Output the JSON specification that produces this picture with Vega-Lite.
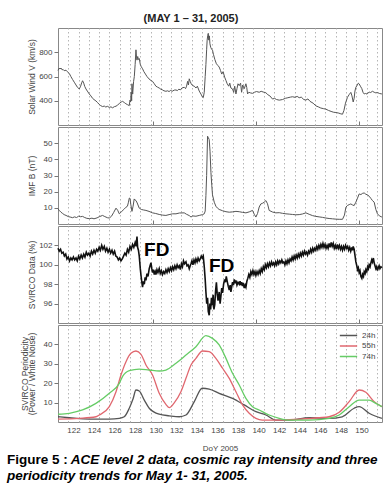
{
  "$schema": "https://vega.github.io/schema/vega-lite/v6.json",
  "background": "white",
  "padding": {"left": 6, "top": 12, "right": 4, "bottom": 2},
  "config": {
    "font": "Liberation Sans",
    "view": {"stroke": "#888888", "strokeWidth": 1},
    "axis": {
      "labelFontSize": 8, "labelColor": "#444444", "titleFontSize": 8.5, "titleFontWeight": "normal",
      "titleColor": "#444444", "tickColor": "#777777", "domain": false, "grid": false
    },
    "concat": {"spacing": 0}
  },
  "resolve": {"scale": {"color": "independent"}, "legend": {"color": "independent"}},
  "title": {
    "text": "Figure 5 :",
    "subtitle": ["\u200b\u00a0\u00a0\u00a0\u00a0\u00a0\u00a0\u00a0\u00a0\u00a0\u00a0\u00a0\u00a0\u00a0\u00a0\u00a0\u00a0\u00a0ACE level 2 data, cosmic ray intensity and three", "periodicity trends for May 1- 31, 2005."],
    "orient": "bottom", "anchor": "start", "frame": "bounds",
    "fontSize": 13.5, "fontWeight": "bold", "color": "#000000",
    "subtitleFontSize": 13.5, "subtitleFontWeight": "bold", "subtitleFontStyle": "italic", "subtitleColor": "#000000",
    "subtitlePadding": -13.5, "subtitleLineHeight": 16, "offset": 0, "dx": -13
  },
  "datasets": {
    "sw": [
      {"day":120.50,"v":650},{"day":120.60,"v":668},{"day":120.70,"v":662},{"day":120.79,"v":670},{"day":120.90,"v":655},{"day":121.00,"v":658},{"day":121.10,"v":648},{"day":121.28,"v":652},{"day":121.40,"v":640},{"day":121.50,"v":632},{"day":121.60,"v":625},{"day":121.75,"v":600},{"day":121.92,"v":575},{"day":122.08,"v":553},{"day":122.25,"v":530},{"day":122.40,"v":510},{"day":122.57,"v":497},{"day":122.70,"v":520},{"day":122.80,"v":548},{"day":122.89,"v":565},{"day":123.00,"v":545},{"day":123.10,"v":518},{"day":123.22,"v":497},{"day":123.35,"v":480},{"day":123.54,"v":456},{"day":123.70,"v":440},{"day":123.86,"v":420},{"day":124.00,"v":410},{"day":124.19,"v":398},{"day":124.35,"v":385},{"day":124.50,"v":370},{"day":124.65,"v":360},{"day":124.83,"v":352},{"day":125.00,"v":356},{"day":125.15,"v":348},{"day":125.30,"v":354},{"day":125.49,"v":345},{"day":125.65,"v":350},{"day":125.80,"v":342},{"day":126.00,"v":352},{"day":126.14,"v":355},{"day":126.30,"v":365},{"day":126.50,"v":380},{"day":126.65,"v":390},{"day":126.78,"v":395},{"day":126.95,"v":385},{"day":127.10,"v":375},{"day":127.25,"v":368},{"day":127.43,"v":360},{"day":127.50,"v":405},{"day":127.56,"v":390},{"day":127.62,"v":470},{"day":127.66,"v":400},{"day":127.69,"v":540},{"day":127.76,"v":455},{"day":127.85,"v":560},{"day":127.92,"v":600},{"day":128.00,"v":700},{"day":128.08,"v":820},{"day":128.13,"v":760},{"day":128.18,"v":735},{"day":128.25,"v":765},{"day":128.32,"v":740},{"day":128.40,"v":748},{"day":128.50,"v":700},{"day":128.60,"v":680},{"day":128.72,"v":664},{"day":128.85,"v":640},{"day":129.00,"v":620},{"day":129.15,"v":600},{"day":129.35,"v":580},{"day":129.54,"v":567},{"day":129.69,"v":560},{"day":129.86,"v":540},{"day":130.02,"v":520},{"day":130.18,"v":512},{"day":130.34,"v":505},{"day":130.50,"v":495},{"day":130.65,"v":490},{"day":130.80,"v":482},{"day":130.99,"v":478},{"day":131.15,"v":482},{"day":131.30,"v":476},{"day":131.45,"v":485},{"day":131.60,"v":478},{"day":131.80,"v":488},{"day":131.97,"v":489},{"day":132.10,"v":484},{"day":132.25,"v":495},{"day":132.40,"v":490},{"day":132.55,"v":505},{"day":132.77,"v":511},{"day":132.90,"v":500},{"day":133.00,"v":520},{"day":133.10,"v":560},{"day":133.18,"v":530},{"day":133.26,"v":581},{"day":133.35,"v":560},{"day":133.45,"v":540},{"day":133.58,"v":525},{"day":133.75,"v":520},{"day":133.91,"v":505},{"day":134.05,"v":520},{"day":134.23,"v":480},{"day":134.40,"v":455},{"day":134.55,"v":430},{"day":134.62,"v":425},{"day":134.72,"v":470},{"day":134.81,"v":600},{"day":134.88,"v":700},{"day":134.95,"v":820},{"day":135.00,"v":900},{"day":135.06,"v":940},{"day":135.11,"v":956},{"day":135.16,"v":900},{"day":135.22,"v":935},{"day":135.27,"v":870},{"day":135.35,"v":840},{"day":135.44,"v":825},{"day":135.52,"v":817},{"day":135.62,"v":780},{"day":135.75,"v":740},{"day":135.90,"v":705},{"day":136.05,"v":690},{"day":136.17,"v":678},{"day":136.30,"v":650},{"day":136.42,"v":620},{"day":136.55,"v":640},{"day":136.70,"v":595},{"day":136.83,"v":567},{"day":136.95,"v":540},{"day":137.10,"v":520},{"day":137.20,"v":545},{"day":137.31,"v":505},{"day":137.47,"v":497},{"day":137.58,"v":470},{"day":137.68,"v":520},{"day":137.80,"v":456},{"day":137.90,"v":500},{"day":138.00,"v":540},{"day":138.12,"v":525},{"day":138.25,"v":545},{"day":138.35,"v":470},{"day":138.45,"v":530},{"day":138.61,"v":500},{"day":138.77,"v":540},{"day":138.85,"v":510},{"day":138.93,"v":456},{"day":139.05,"v":470},{"day":139.20,"v":465},{"day":139.41,"v":461},{"day":139.60,"v":470},{"day":139.80,"v":476},{"day":140.06,"v":470},{"day":140.25,"v":478},{"day":140.45,"v":472},{"day":140.71,"v":466},{"day":140.90,"v":450},{"day":141.10,"v":440},{"day":141.36,"v":414},{"day":141.55,"v":420},{"day":141.75,"v":410},{"day":142.01,"v":405},{"day":142.33,"v":410},{"day":142.60,"v":420},{"day":142.85,"v":425},{"day":143.10,"v":430},{"day":143.30,"v":433},{"day":143.55,"v":428},{"day":143.75,"v":436},{"day":143.95,"v":425},{"day":144.15,"v":430},{"day":144.40,"v":410},{"day":144.60,"v":406},{"day":144.80,"v":415},{"day":145.00,"v":395},{"day":145.30,"v":380},{"day":145.57,"v":358},{"day":145.80,"v":350},{"day":146.05,"v":340},{"day":146.30,"v":335},{"day":146.54,"v":331},{"day":146.80,"v":320},{"day":147.05,"v":312},{"day":147.30,"v":305},{"day":147.52,"v":303},{"day":147.80,"v":298},{"day":148.00,"v":292},{"day":148.16,"v":289},{"day":148.30,"v":320},{"day":148.45,"v":380},{"day":148.64,"v":428},{"day":148.80,"v":450},{"day":148.97,"v":469},{"day":149.08,"v":440},{"day":149.20,"v":390},{"day":149.29,"v":420},{"day":149.37,"v":480},{"day":149.46,"v":511},{"day":149.60,"v":530},{"day":149.70,"v":545},{"day":149.78,"v":539},{"day":149.90,"v":520},{"day":150.04,"v":500},{"day":150.15,"v":470},{"day":150.27,"v":456},{"day":150.40,"v":460},{"day":150.55,"v":455},{"day":150.75,"v":472},{"day":150.90,"v":468},{"day":151.07,"v":478},{"day":151.24,"v":470},{"day":151.40,"v":465},{"day":151.56,"v":468},{"day":151.75,"v":460},{"day":151.99,"v":456}
    ],
    "imf": [
      {"day":120.50,"b":9.4},{"day":120.65,"b":8.2},{"day":120.79,"b":7.3},{"day":120.95,"b":6.5},{"day":121.10,"b":5.8},{"day":121.28,"b":5.3},{"day":121.50,"b":4.6},{"day":121.75,"b":4.2},{"day":121.92,"b":3.9},{"day":122.10,"b":4.4},{"day":122.30,"b":4.0},{"day":122.50,"b":4.8},{"day":122.70,"b":4.5},{"day":122.89,"b":4.7},{"day":123.10,"b":4.0},{"day":123.30,"b":3.5},{"day":123.54,"b":3.3},{"day":123.80,"b":3.6},{"day":124.00,"b":3.2},{"day":124.30,"b":3.8},{"day":124.51,"b":4.5},{"day":124.83,"b":5.3},{"day":125.05,"b":4.6},{"day":125.30,"b":3.9},{"day":125.49,"b":3.7},{"day":125.70,"b":4.8},{"day":125.90,"b":7.0},{"day":126.14,"b":9.8},{"day":126.30,"b":8.5},{"day":126.46,"b":6.3},{"day":126.65,"b":7.5},{"day":126.90,"b":9.0},{"day":127.11,"b":10.4},{"day":127.25,"b":11.0},{"day":127.35,"b":13.5},{"day":127.43,"b":16.0},{"day":127.50,"b":15.9},{"day":127.58,"b":12.0},{"day":127.69,"b":7.8},{"day":127.80,"b":11.0},{"day":127.91,"b":15.5},{"day":128.00,"b":14.8},{"day":128.08,"b":14.5},{"day":128.20,"b":13.0},{"day":128.40,"b":9.8},{"day":128.60,"b":9.0},{"day":128.80,"b":8.7},{"day":129.05,"b":8.4},{"day":129.35,"b":7.8},{"day":129.69,"b":6.9},{"day":130.00,"b":6.5},{"day":130.34,"b":5.9},{"day":130.66,"b":5.5},{"day":130.99,"b":5.3},{"day":131.30,"b":5.8},{"day":131.64,"b":6.3},{"day":131.97,"b":6.3},{"day":132.30,"b":6.8},{"day":132.77,"b":6.9},{"day":133.00,"b":6.0},{"day":133.26,"b":5.2},{"day":133.43,"b":4.3},{"day":133.60,"b":5.0},{"day":133.91,"b":4.8},{"day":134.23,"b":5.3},{"day":134.55,"b":5.8},{"day":134.72,"b":6.3},{"day":134.81,"b":8.0},{"day":134.88,"b":17.6},{"day":134.95,"b":30.0},{"day":135.04,"b":54.3},{"day":135.11,"b":53.5},{"day":135.20,"b":52.2},{"day":135.28,"b":45.0},{"day":135.37,"b":31.8},{"day":135.45,"b":24.0},{"day":135.52,"b":18.0},{"day":135.69,"b":13.5},{"day":135.85,"b":11.0},{"day":136.01,"b":9.8},{"day":136.17,"b":9.0},{"day":136.50,"b":8.2},{"day":136.83,"b":7.6},{"day":137.15,"b":7.3},{"day":137.47,"b":7.5},{"day":137.80,"b":7.8},{"day":138.12,"b":7.6},{"day":138.44,"b":7.2},{"day":138.77,"b":6.9},{"day":139.09,"b":7.5},{"day":139.41,"b":8.4},{"day":139.58,"b":6.0},{"day":139.74,"b":4.3},{"day":139.90,"b":6.5},{"day":140.06,"b":10.5},{"day":140.22,"b":12.4},{"day":140.38,"b":12.8},{"day":140.55,"b":13.5},{"day":140.71,"b":14.5},{"day":140.87,"b":12.5},{"day":141.03,"b":8.4},{"day":141.36,"b":7.4},{"day":141.68,"b":6.9},{"day":142.01,"b":7.0},{"day":142.33,"b":6.6},{"day":142.66,"b":6.3},{"day":142.98,"b":6.1},{"day":143.30,"b":5.9},{"day":143.62,"b":5.7},{"day":143.95,"b":5.8},{"day":144.27,"b":6.2},{"day":144.60,"b":6.9},{"day":144.92,"b":6.0},{"day":145.24,"b":5.2},{"day":145.57,"b":4.7},{"day":145.89,"b":4.4},{"day":146.21,"b":4.1},{"day":146.54,"b":3.7},{"day":146.86,"b":3.4},{"day":147.19,"b":3.2},{"day":147.52,"b":3.0},{"day":147.84,"b":2.9},{"day":148.16,"b":2.9},{"day":148.35,"b":5.5},{"day":148.49,"b":10.4},{"day":148.65,"b":11.5},{"day":148.81,"b":12.0},{"day":148.97,"b":12.4},{"day":149.13,"b":11.8},{"day":149.29,"b":11.4},{"day":149.46,"b":13.5},{"day":149.62,"b":16.0},{"day":149.78,"b":18.6},{"day":149.95,"b":18.2},{"day":150.12,"b":19.0},{"day":150.27,"b":19.2},{"day":150.43,"b":18.4},{"day":150.59,"b":18.0},{"day":150.75,"b":17.2},{"day":150.92,"b":15.8},{"day":151.07,"b":14.5},{"day":151.24,"b":13.5},{"day":151.40,"b":9.0},{"day":151.56,"b":6.3},{"day":151.75,"b":5.0},{"day":151.99,"b":4.3}
    ],
    "cr": [
      {"day":120.50,"s":101.7},{"day":120.62,"s":101.4},{"day":120.75,"s":101.6},{"day":120.87,"s":101.2},{"day":121.00,"s":101.3},{"day":121.12,"s":100.9},{"day":121.25,"s":101.1},{"day":121.37,"s":100.6},{"day":121.50,"s":100.8},{"day":121.62,"s":100.4},{"day":121.75,"s":100.7},{"day":121.87,"s":100.5},{"day":122.00,"s":100.8},{"day":122.12,"s":100.5},{"day":122.25,"s":100.7},{"day":122.37,"s":100.4},{"day":122.50,"s":100.9},{"day":122.62,"s":100.6},{"day":122.75,"s":101.0},{"day":122.87,"s":100.7},{"day":123.00,"s":101.1},{"day":123.12,"s":100.8},{"day":123.25,"s":101.3},{"day":123.37,"s":101.0},{"day":123.50,"s":101.2},{"day":123.62,"s":100.9},{"day":123.75,"s":101.4},{"day":123.87,"s":101.1},{"day":124.00,"s":101.5},{"day":124.12,"s":101.2},{"day":124.25,"s":101.6},{"day":124.37,"s":101.4},{"day":124.50,"s":101.8},{"day":124.62,"s":101.5},{"day":124.75,"s":102.0},{"day":124.87,"s":101.6},{"day":125.00,"s":101.9},{"day":125.12,"s":101.4},{"day":125.25,"s":101.7},{"day":125.37,"s":101.3},{"day":125.50,"s":101.6},{"day":125.62,"s":101.2},{"day":125.75,"s":101.5},{"day":125.87,"s":101.1},{"day":126.00,"s":101.4},{"day":126.12,"s":100.9},{"day":126.25,"s":100.8},{"day":126.37,"s":100.5},{"day":126.50,"s":100.7},{"day":126.62,"s":100.4},{"day":126.75,"s":100.6},{"day":126.87,"s":100.9},{"day":127.00,"s":101.2},{"day":127.12,"s":101.0},{"day":127.25,"s":101.6},{"day":127.37,"s":101.3},{"day":127.50,"s":101.9},{"day":127.62,"s":101.6},{"day":127.75,"s":102.1},{"day":127.87,"s":101.8},{"day":128.00,"s":102.3},{"day":128.10,"s":101.9},{"day":128.18,"s":102.9},{"day":128.24,"s":101.8},{"day":128.32,"s":101.5},{"day":128.40,"s":100.9},{"day":128.50,"s":99.6},{"day":128.57,"s":98.9},{"day":128.65,"s":98.2},{"day":128.72,"s":97.7},{"day":128.80,"s":98.3},{"day":128.89,"s":98.0},{"day":128.97,"s":98.7},{"day":129.05,"s":98.4},{"day":129.15,"s":99.1},{"day":129.25,"s":98.8},{"day":129.37,"s":99.6},{"day":129.45,"s":99.9},{"day":129.54,"s":100.2},{"day":129.62,"s":99.6},{"day":129.69,"s":99.2},{"day":129.78,"s":99.5},{"day":129.86,"s":99.0},{"day":129.95,"s":99.3},{"day":130.02,"s":99.0},{"day":130.12,"s":99.5},{"day":130.22,"s":99.2},{"day":130.34,"s":99.6},{"day":130.44,"s":99.1},{"day":130.55,"s":99.4},{"day":130.66,"s":99.0},{"day":130.77,"s":99.3},{"day":130.88,"s":99.1},{"day":130.99,"s":99.5},{"day":131.10,"s":99.2},{"day":131.21,"s":99.6},{"day":131.32,"s":99.3},{"day":131.43,"s":99.7},{"day":131.54,"s":99.4},{"day":131.64,"s":99.8},{"day":131.75,"s":99.5},{"day":131.86,"s":99.9},{"day":131.97,"s":99.6},{"day":132.08,"s":100.0},{"day":132.18,"s":99.7},{"day":132.29,"s":99.9},{"day":132.40,"s":99.5},{"day":132.50,"s":100.1},{"day":132.60,"s":99.8},{"day":132.70,"s":100.4},{"day":132.80,"s":100.1},{"day":132.94,"s":100.3},{"day":133.04,"s":99.9},{"day":133.15,"s":100.0},{"day":133.26,"s":99.6},{"day":133.35,"s":99.9},{"day":133.43,"s":100.1},{"day":133.52,"s":100.4},{"day":133.62,"s":100.0},{"day":133.72,"s":100.5},{"day":133.82,"s":100.2},{"day":133.91,"s":100.6},{"day":134.02,"s":100.3},{"day":134.12,"s":100.7},{"day":134.23,"s":100.4},{"day":134.33,"s":100.6},{"day":134.43,"s":100.9},{"day":134.52,"s":100.7},{"day":134.62,"s":100.9},{"day":134.72,"s":99.8},{"day":134.81,"s":98.5},{"day":134.88,"s":97.2},{"day":134.96,"s":96.0},{"day":135.04,"s":96.6},{"day":135.11,"s":95.2},{"day":135.20,"s":94.8},{"day":135.27,"s":96.0},{"day":135.34,"s":95.4},{"day":135.42,"s":96.6},{"day":135.50,"s":95.8},{"day":135.58,"s":96.9},{"day":135.66,"s":95.4},{"day":135.74,"s":95.9},{"day":135.82,"s":97.3},{"day":135.90,"s":98.2},{"day":135.98,"s":97.0},{"day":136.06,"s":96.3},{"day":136.17,"s":97.2},{"day":136.26,"s":96.0},{"day":136.34,"s":96.8},{"day":136.42,"s":97.6},{"day":136.50,"s":97.1},{"day":136.60,"s":98.0},{"day":136.70,"s":98.5},{"day":136.78,"s":98.2},{"day":136.86,"s":98.8},{"day":136.95,"s":98.3},{"day":137.05,"s":97.8},{"day":137.15,"s":97.4},{"day":137.24,"s":97.9},{"day":137.31,"s":97.2},{"day":137.40,"s":97.8},{"day":137.47,"s":98.2},{"day":137.56,"s":97.9},{"day":137.64,"s":98.5},{"day":137.72,"s":98.1},{"day":137.80,"s":98.4},{"day":137.90,"s":97.9},{"day":138.00,"s":98.2},{"day":138.12,"s":98.0},{"day":138.20,"s":98.3},{"day":138.28,"s":97.9},{"day":138.36,"s":98.2},{"day":138.44,"s":97.8},{"day":138.52,"s":98.1},{"day":138.61,"s":97.6},{"day":138.70,"s":97.9},{"day":138.77,"s":97.7},{"day":138.86,"s":98.3},{"day":138.95,"s":98.6},{"day":139.05,"s":99.0},{"day":139.15,"s":98.7},{"day":139.25,"s":99.3},{"day":139.35,"s":99.0},{"day":139.45,"s":99.4},{"day":139.55,"s":99.0},{"day":139.65,"s":99.3},{"day":139.74,"s":98.9},{"day":139.85,"s":99.3},{"day":139.95,"s":99.0},{"day":140.06,"s":99.4},{"day":140.16,"s":99.1},{"day":140.26,"s":99.6},{"day":140.36,"s":99.3},{"day":140.46,"s":99.8},{"day":140.56,"s":99.5},{"day":140.66,"s":100.0},{"day":140.76,"s":99.7},{"day":140.86,"s":100.1},{"day":140.96,"s":99.8},{"day":141.06,"s":100.2},{"day":141.16,"s":99.9},{"day":141.26,"s":100.3},{"day":141.36,"s":100.0},{"day":141.46,"s":100.2},{"day":141.56,"s":99.9},{"day":141.66,"s":100.3},{"day":141.76,"s":100.0},{"day":141.86,"s":100.4},{"day":141.96,"s":100.1},{"day":142.06,"s":100.4},{"day":142.16,"s":100.2},{"day":142.26,"s":100.5},{"day":142.36,"s":100.2},{"day":142.46,"s":100.3},{"day":142.56,"s":100.0},{"day":142.66,"s":100.4},{"day":142.76,"s":100.1},{"day":142.86,"s":100.5},{"day":142.96,"s":100.2},{"day":143.06,"s":100.6},{"day":143.16,"s":100.4},{"day":143.26,"s":100.8},{"day":143.36,"s":100.5},{"day":143.46,"s":100.9},{"day":143.56,"s":100.6},{"day":143.66,"s":101.0},{"day":143.76,"s":100.7},{"day":143.86,"s":101.1},{"day":143.96,"s":100.8},{"day":144.06,"s":101.2},{"day":144.16,"s":100.9},{"day":144.26,"s":101.3},{"day":144.36,"s":101.0},{"day":144.46,"s":101.4},{"day":144.56,"s":101.1},{"day":144.66,"s":101.3},{"day":144.76,"s":101.0},{"day":144.86,"s":101.4},{"day":144.96,"s":101.2},{"day":145.06,"s":101.6},{"day":145.16,"s":101.3},{"day":145.26,"s":101.7},{"day":145.36,"s":101.4},{"day":145.46,"s":101.7},{"day":145.56,"s":101.5},{"day":145.66,"s":101.9},{"day":145.76,"s":101.6},{"day":145.86,"s":102.0},{"day":145.96,"s":101.7},{"day":146.06,"s":102.1},{"day":146.16,"s":101.8},{"day":146.26,"s":102.2},{"day":146.36,"s":101.8},{"day":146.46,"s":102.1},{"day":146.56,"s":101.7},{"day":146.66,"s":102.0},{"day":146.76,"s":101.7},{"day":146.86,"s":102.2},{"day":146.96,"s":101.8},{"day":147.06,"s":102.3},{"day":147.16,"s":101.9},{"day":147.26,"s":102.2},{"day":147.36,"s":101.7},{"day":147.46,"s":102.0},{"day":147.56,"s":101.6},{"day":147.66,"s":102.1},{"day":147.76,"s":101.7},{"day":147.86,"s":102.0},{"day":147.96,"s":101.6},{"day":148.06,"s":101.9},{"day":148.16,"s":101.5},{"day":148.26,"s":101.9},{"day":148.36,"s":101.6},{"day":148.46,"s":102.0},{"day":148.56,"s":101.7},{"day":148.66,"s":101.9},{"day":148.76,"s":101.5},{"day":148.86,"s":101.8},{"day":148.96,"s":101.4},{"day":149.06,"s":101.8},{"day":149.13,"s":101.5},{"day":149.20,"s":101.9},{"day":149.29,"s":101.6},{"day":149.37,"s":101.0},{"day":149.46,"s":100.3},{"day":149.55,"s":99.9},{"day":149.62,"s":99.5},{"day":149.70,"s":99.7},{"day":149.78,"s":99.2},{"day":149.86,"s":99.4},{"day":149.95,"s":98.8},{"day":150.04,"s":98.6},{"day":150.12,"s":99.0},{"day":150.20,"s":98.8},{"day":150.27,"s":99.3},{"day":150.36,"s":99.1},{"day":150.43,"s":99.5},{"day":150.52,"s":99.3},{"day":150.60,"s":99.8},{"day":150.68,"s":99.6},{"day":150.75,"s":100.0},{"day":150.84,"s":99.8},{"day":150.92,"s":100.2},{"day":151.00,"s":100.5},{"day":151.07,"s":100.3},{"day":151.16,"s":100.7},{"day":151.24,"s":100.2},{"day":151.32,"s":99.9},{"day":151.40,"s":99.6},{"day":151.48,"s":99.8},{"day":151.56,"s":99.4},{"day":151.64,"s":99.7},{"day":151.72,"s":99.9},{"day":151.80,"s":99.6},{"day":151.90,"s":99.8},{"day":151.99,"s":99.7}
    ],
    "fd": [
      {"day":130.1,"s":101.5,"label":"FD"},
      {"day":136.4,"s":99.85,"label":"FD"}
    ],
    "per": [
      {"day":120.50,"p":2.7,"series":"24h"},{"day":121.60,"p":2.2,"series":"24h"},{"day":123.54,"p":1.5,"series":"24h"},{"day":125.49,"p":1.5,"series":"24h"},{"day":126.46,"p":1.9,"series":"24h"},{"day":126.94,"p":2.7,"series":"24h"},{"day":127.43,"p":7.1,"series":"24h"},{"day":127.80,"p":12.0,"series":"24h"},{"day":128.08,"p":16.5,"series":"24h"},{"day":128.40,"p":16.0,"series":"24h"},{"day":128.89,"p":11.3,"series":"24h"},{"day":129.37,"p":7.1,"series":"24h"},{"day":130.34,"p":4.0,"series":"24h"},{"day":131.32,"p":3.2,"series":"24h"},{"day":132.29,"p":2.7,"series":"24h"},{"day":132.94,"p":3.6,"series":"24h"},{"day":133.75,"p":10.5,"series":"24h"},{"day":134.52,"p":17.4,"series":"24h"},{"day":135.20,"p":17.0,"series":"24h"},{"day":136.17,"p":14.8,"series":"24h"},{"day":137.47,"p":12.2,"series":"24h"},{"day":138.61,"p":8.8,"series":"24h"},{"day":139.74,"p":5.3,"series":"24h"},{"day":140.71,"p":3.6,"series":"24h"},{"day":141.68,"p":1.0,"series":"24h"},{"day":142.98,"p":1.0,"series":"24h"},{"day":144.92,"p":2.2,"series":"24h"},{"day":146.86,"p":1.9,"series":"24h"},{"day":148.13,"p":2.7,"series":"24h"},{"day":149.29,"p":7.1,"series":"24h"},{"day":149.78,"p":7.9,"series":"24h"},{"day":150.75,"p":4.5,"series":"24h"},{"day":151.99,"p":1.9,"series":"24h"},
      {"day":120.50,"p":1.5,"series":"55h"},{"day":122.57,"p":1.9,"series":"55h"},{"day":124.19,"p":2.7,"series":"55h"},{"day":124.51,"p":3.6,"series":"55h"},{"day":125.49,"p":7.9,"series":"55h"},{"day":126.14,"p":15.6,"series":"55h"},{"day":126.62,"p":24.2,"series":"55h"},{"day":127.11,"p":31.1,"series":"55h"},{"day":127.59,"p":35.4,"series":"55h"},{"day":128.08,"p":36.6,"series":"55h"},{"day":128.57,"p":34.9,"series":"55h"},{"day":129.05,"p":29.4,"series":"55h"},{"day":129.69,"p":24.2,"series":"55h"},{"day":130.34,"p":14.8,"series":"55h"},{"day":130.99,"p":9.1,"series":"55h"},{"day":131.32,"p":7.4,"series":"55h"},{"day":131.80,"p":9.9,"series":"55h"},{"day":132.45,"p":15.6,"series":"55h"},{"day":132.94,"p":22.5,"series":"55h"},{"day":133.43,"p":29.4,"series":"55h"},{"day":133.91,"p":32.8,"series":"55h"},{"day":134.55,"p":36.6,"series":"55h"},{"day":135.20,"p":36.3,"series":"55h"},{"day":135.85,"p":32.8,"series":"55h"},{"day":136.50,"p":27.7,"series":"55h"},{"day":137.15,"p":22.5,"series":"55h"},{"day":137.80,"p":15.6,"series":"55h"},{"day":138.44,"p":8.8,"series":"55h"},{"day":139.09,"p":4.5,"series":"55h"},{"day":139.74,"p":1.9,"series":"55h"},{"day":140.38,"p":1.0,"series":"55h"},{"day":142.01,"p":1.0,"series":"55h"},{"day":143.95,"p":1.5,"series":"55h"},{"day":145.89,"p":2.2,"series":"55h"},{"day":146.86,"p":2.7,"series":"55h"},{"day":147.84,"p":5.0,"series":"55h"},{"day":148.81,"p":10.5,"series":"55h"},{"day":149.78,"p":16.5,"series":"55h"},{"day":150.43,"p":15.3,"series":"55h"},{"day":151.24,"p":10.5,"series":"55h"},{"day":151.99,"p":7.9,"series":"55h"},
      {"day":120.50,"p":4.0,"series":"74h"},{"day":121.60,"p":4.5,"series":"74h"},{"day":122.89,"p":6.2,"series":"74h"},{"day":124.19,"p":9.6,"series":"74h"},{"day":125.49,"p":14.8,"series":"74h"},{"day":126.46,"p":19.9,"series":"74h"},{"day":126.78,"p":23.5,"series":"74h"},{"day":127.43,"p":26.5,"series":"74h"},{"day":128.40,"p":27.3,"series":"74h"},{"day":129.37,"p":26.8,"series":"74h"},{"day":130.34,"p":26.3,"series":"74h"},{"day":130.99,"p":26.8,"series":"74h"},{"day":131.97,"p":30.3,"series":"74h"},{"day":132.94,"p":34.5,"series":"74h"},{"day":133.91,"p":38.8,"series":"74h"},{"day":134.88,"p":44.5,"series":"74h"},{"day":135.52,"p":43.1,"series":"74h"},{"day":136.17,"p":39.7,"series":"74h"},{"day":136.83,"p":32.8,"series":"74h"},{"day":137.47,"p":25.1,"series":"74h"},{"day":138.12,"p":19.1,"series":"74h"},{"day":138.77,"p":12.2,"series":"74h"},{"day":139.41,"p":7.9,"series":"74h"},{"day":140.06,"p":6.2,"series":"74h"},{"day":141.03,"p":3.6,"series":"74h"},{"day":142.01,"p":1.9,"series":"74h"},{"day":142.98,"p":1.0,"series":"74h"},{"day":144.92,"p":1.0,"series":"74h"},{"day":146.86,"p":1.9,"series":"74h"},{"day":147.84,"p":3.6,"series":"74h"},{"day":148.81,"p":7.9,"series":"74h"},{"day":149.78,"p":11.3,"series":"74h"},{"day":150.75,"p":11.3,"series":"74h"},{"day":151.40,"p":9.6,"series":"74h"},{"day":151.99,"p":7.9,"series":"74h"}
    ]
  },
  "vconcat": [
    {
      "width": 324, "height": 97,
      "title": {"text": "(MAY 1 \u2013 31, 2005)", "fontSize": 11, "fontWeight": "bold", "color": "#222222", "anchor": "middle", "frame": "group", "dx": -29, "offset": 4},
      "data": {"name": "sw"},
      "resolve": {"axis": {"x": "independent"}},
      "encoding": {
        "y": {"field": "v", "type": "quantitative", "scale": {"domain": [200, 1000], "nice": false, "zero": false},
              "axis": {"values": [400, 600, 800], "title": "Solar Wind V (km/s)", "tickSize": 4, "titleX": -22}}
      },
      "layer": [
        {"mark": {"type": "line", "opacity": 0},
         "encoding": {"x": {"field": "day", "type": "quantitative", "scale": {"domain": [120.5, 152], "nice": false, "zero": false},
           "axis": {"orient": "top", "values": [121.5,122.5,123.5,124.5,125.5,126.5,127.5,128.5,129.5,130.5,131.5,132.5,133.5,134.5,135.5,136.5,137.5,138.5,139.5,140.5,141.5,142.5,143.5,144.5,145.5,146.5,147.5,148.5,149.5,150.5,151.5],
             "grid": true, "gridColor": "#b5b5b5", "gridDash": [1.5, 2.5], "gridWidth": 1, "labels": false, "ticks": false, "title": null}}}},
        {"mark": {"type": "line", "color": "#555555", "strokeWidth": 1},
         "encoding": {"x": {"field": "day", "type": "quantitative",
           "axis": {"orient": "bottom", "values": [129.7, 139.75, 149.8], "labels": false, "tickSize": -4, "title": null}}}}
      ]
    },
    {
      "width": 324, "height": 97,
      "data": {"name": "imf"},
      "resolve": {"axis": {"x": "independent"}},
      "encoding": {
        "y": {"field": "b", "type": "quantitative", "scale": {"domain": [0, 60], "nice": false},
              "axis": {"values": [10, 20, 30, 40, 50], "title": "IMF B (nT)", "tickSize": 4, "titleX": -22}}
      },
      "layer": [
        {"mark": {"type": "line", "opacity": 0},
         "encoding": {"x": {"field": "day", "type": "quantitative", "scale": {"domain": [120.5, 152], "nice": false, "zero": false},
           "axis": {"orient": "top", "values": [121.5,122.5,123.5,124.5,125.5,126.5,127.5,128.5,129.5,130.5,131.5,132.5,133.5,134.5,135.5,136.5,137.5,138.5,139.5,140.5,141.5,142.5,143.5,144.5,145.5,146.5,147.5,148.5,149.5,150.5,151.5],
             "grid": true, "gridColor": "#b5b5b5", "gridDash": [1.5, 2.5], "gridWidth": 1, "labels": false, "ticks": false, "title": null}}}},
        {"mark": {"type": "line", "color": "#555555", "strokeWidth": 1},
         "encoding": {"x": {"field": "day", "type": "quantitative",
           "axis": {"orient": "bottom", "values": [129.7, 139.75, 149.8], "labels": false, "tickSize": -4, "title": null}}}}
      ]
    },
    {
      "width": 324, "height": 97,
      "resolve": {"axis": {"x": "independent"}},
      "encoding": {
        "y": {"field": "s", "type": "quantitative", "scale": {"domain": [94, 104], "nice": false, "zero": false},
              "axis": {"values": [96, 98, 100, 102], "title": "SVIRCO Data (%)", "tickSize": 4, "titleX": -22}}
      },
      "layer": [
        {"data": {"name": "cr"},
         "mark": {"type": "line", "opacity": 0},
         "encoding": {"x": {"field": "day", "type": "quantitative", "scale": {"domain": [120.5, 152], "nice": false, "zero": false},
           "axis": {"orient": "top", "values": [121.5,122.5,123.5,124.5,125.5,126.5,127.5,128.5,129.5,130.5,131.5,132.5,133.5,134.5,135.5,136.5,137.5,138.5,139.5,140.5,141.5,142.5,143.5,144.5,145.5,146.5,147.5,148.5,149.5,150.5,151.5],
             "grid": true, "gridColor": "#b5b5b5", "gridDash": [1.5, 2.5], "gridWidth": 1, "labels": false, "ticks": false, "title": null}}}},
        {"data": {"name": "cr"},
         "mark": {"type": "line", "color": "#111111", "strokeWidth": 1.6},
         "encoding": {"x": {"field": "day", "type": "quantitative",
           "axis": {"orient": "bottom", "values": [129.7, 139.75, 149.8], "labels": false, "tickSize": -4, "title": null}}}},
        {"data": {"name": "fd"},
         "mark": {"type": "text", "fontSize": 19, "fontWeight": "bold", "color": "#000000", "font": "Liberation Sans"},
         "encoding": {"x": {"field": "day", "type": "quantitative", "axis": null},
           "text": {"field": "label"}}}
      ]
    },
    {
      "width": 324, "height": 97,
      "data": {"name": "per"},
      "resolve": {"axis": {"x": "independent"}},
      "encoding": {
        "y": {"field": "p", "type": "quantitative", "scale": {"domain": [0, 50], "nice": false},
              "axis": {"values": [10, 20, 30, 40], "title": ["SVIRCO Periodicity", "(Power / White Noise)"], "tickSize": 4, "titleX": -28.5, "titleLineHeight": 7}}
      },
      "layer": [
        {"mark": {"type": "line", "opacity": 0},
         "encoding": {"detail": {"field": "series"}, "x": {"field": "day", "type": "quantitative", "scale": {"domain": [120.5, 152], "nice": false, "zero": false},
           "axis": {"orient": "top", "values": [121.5,122.5,123.5,124.5,125.5,126.5,127.5,128.5,129.5,130.5,131.5,132.5,133.5,134.5,135.5,136.5,137.5,138.5,139.5,140.5,141.5,142.5,143.5,144.5,145.5,146.5,147.5,148.5,149.5,150.5,151.5],
             "grid": true, "gridColor": "#b5b5b5", "gridDash": [1.5, 2.5], "gridWidth": 1, "labels": false, "ticks": false, "title": null}}}},
        {"mark": {"type": "line", "strokeWidth": 1.3, "interpolate": "monotone"},
         "encoding": {"x": {"field": "day", "type": "quantitative",
           "axis": {"orient": "bottom", "values": [122,124,126,128,130,132,134,136,138,140,142,144,146,148,150], "ticks": false, "labelPadding": 4, "title": "DoY 2005", "titlePadding": 10, "titleFontSize": 8}},
           "color": {"field": "series", "type": "nominal", "scale": {"domain": ["24h", "55h", "74h"], "range": ["#555555", "#e0676f", "#66cc66"]},
             "legend": {"title": null, "orient": "top-right", "offset": 6, "symbolType": "stroke", "symbolSize": 300, "symbolStrokeWidth": 1.3, "labelFontSize": 8, "labelColor": "#444444", "clipHeight": 9, "rowPadding": 1.5, "padding": 0}}}}
      ]
    }
  ]
}
